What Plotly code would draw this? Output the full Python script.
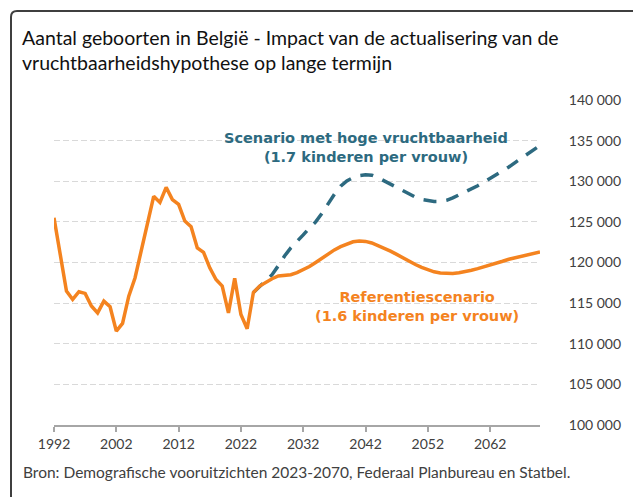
"""
plot.py - Aantal geboorten in Belgie, referentie vs. hoge vruchtbaarheid.
Run: python plot.py
Output: out.html
"""

import plotly.graph_objects as go

# page body has an 8px margin, so the figure sits at (8, 8) on screen
OFF = 8
W, H = 641 - OFF, 497 - OFF
L, R, T, B = 54 - OFF, 101, 100 - OFF, 72

ORANGE = "#F4831F"
TEAL = "#2D6A80"
GRID = "#D9D9D9"
AXIS = "#A6A6A6"
TEXT = "#404040"
FONT = "Lato, 'Open Sans', sans-serif"
BOLD_FONT = "'DejaVu Sans', Verdana, sans-serif"

# waargenomen geboorten 1992-2024
years_hist = list(range(1992, 2025))
births_hist = [
    125500, 120700, 116500, 115450, 116400, 116200, 114650, 113800, 115250, 114550,
    111550, 112500, 115850, 118100, 121600, 125100, 128150, 127400, 129250, 127750,
    127150, 125100, 124400, 121800, 121250, 119350, 117900, 117100, 113800, 118050,
    113600, 111850, 116300,
]

# projecties 2024-2070
years_proj = list(range(2024, 2071))
births_ref = [
    116300, 117100, 117600, 118000, 118350, 118450, 118500, 118750, 119100, 119500,
    120000, 120550, 121100, 121550, 121950, 122300, 122550, 122650, 122600, 122400,
    122100, 121800, 121400, 121000, 120550, 120150, 119750, 119400, 119100, 118850,
    118700, 118650, 118650, 118750, 118850, 119050, 119250, 119450, 119650, 119900,
    120150, 120400, 120600, 120800, 121000, 121150, 121300,
]
births_high = [
    116300, 117000, 117700, 118500, 119600, 120800, 121800, 122550, 123400, 124250,
    125000, 126050, 127300, 128400, 129400, 130050, 130450, 130700, 130800, 130750,
    130450, 130050, 129600, 129250, 128900, 128500, 128050, 127750, 127600, 127500,
    127500, 127650, 127950, 128300, 128650, 129050, 129450, 129900, 130350, 130800,
    131250, 131750, 132300, 132800, 133400, 133900, 134400,
]

x_ticks = list(range(1992, 2063, 10))
y_ticks = list(range(100000, 140001, 5000))
y_tick_text = [f"{v // 1000} 000" for v in y_ticks]


def px(x):
    """screen pixel -> paper x"""
    return (x - OFF - L) / (W - L - R)


def py(y):
    """screen pixel -> paper y"""
    return (H - B - (y - OFF)) / (H - T - B)


fig = go.Figure()

fig.add_trace(go.Scatter(
    x=years_proj, y=births_high, mode="lines",
    line=dict(color=TEAL, width=3.5, dash="13px,10px"),
    hoverinfo="skip",
))
fig.add_trace(go.Scatter(
    x=years_hist + years_proj[1:], y=births_hist + births_ref[1:], mode="lines",
    line=dict(color=ORANGE, width=3.5),
    hoverinfo="skip",
))

fig.add_annotation(
    x=2042, y=134100, text="Scenario met hoge vruchtbaarheid<br>(1.7 kinderen per vrouw)",
    showarrow=False, font=dict(size=14.5, color=TEAL, family=BOLD_FONT, weight="bold"),
)
fig.add_annotation(
    x=2050.2, y=114550, text="Referentiescenario<br>(1.6 kinderen per vrouw)",
    showarrow=False, font=dict(size=14.5, color=ORANGE, family=BOLD_FONT, weight="bold"),
)
fig.add_annotation(
    xref="paper", yref="paper", x=px(20), y=py(24), xanchor="left", yanchor="top",
    align="left",
    text="Aantal geboorten in België - Impact van de actualisering van de<br>"
         "vruchtbaarheidshypothese op lange termijn",
    showarrow=False, font=dict(size=19.5, color="#111111", family=FONT),
)
fig.add_annotation(
    xref="paper", yref="paper", x=px(21), y=py(472), xanchor="left", yanchor="middle",
    text="Bron: Demografische vooruitzichten 2023-2070, Federaal Planbureau en Statbel.",
    showarrow=False, font=dict(size=15.5, color=TEXT, family=FONT),
)

# kader met afgeronde hoek linksboven
x0, y0, rad = px(11), py(11), 6
fig.add_shape(
    type="path", xref="paper", yref="paper",
    path=(f"M {x0},{py(520)} L {x0},{py(11 + rad)} "
          f"Q {x0},{y0} {px(11 + rad)},{y0} L {px(660)},{y0}"),
    line=dict(color="#3F3F3F", width=2),
)

fig.update_layout(
    width=W, height=H,
    margin=dict(l=L, r=R, t=T, b=B),
    paper_bgcolor="white", plot_bgcolor="white",
    showlegend=False,
    font=dict(family=FONT, color=TEXT),
)
fig.update_xaxes(
    range=[1992, 2070], tickvals=x_ticks, ticktext=[str(v) for v in x_ticks],
    showgrid=False, showline=True, linecolor=AXIS, linewidth=1.5,
    ticks="outside", ticklen=5, tickcolor=AXIS, tickwidth=1.5,
    tickfont=dict(size=14, color=TEXT), zeroline=False,
)
fig.update_yaxes(
    range=[100000, 140000], side="right", tickvals=y_ticks, ticktext=y_tick_text,
    showgrid=True, gridcolor=GRID, gridwidth=1, griddash="6px,3px",
    ticks="outside", ticklen=25, tickcolor="rgba(0,0,0,0)",
    tickfont=dict(size=14, color=TEXT), zeroline=False, showline=False,
)

fig.write_html("out.html")
